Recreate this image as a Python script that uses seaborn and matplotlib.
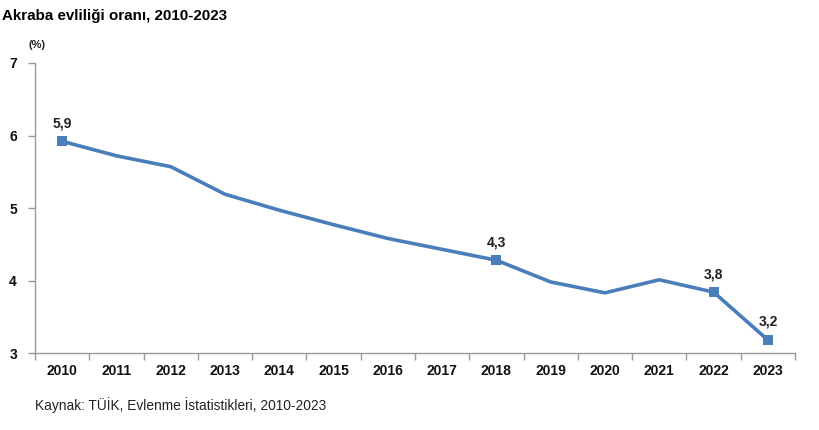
import matplotlib
matplotlib.use("Agg")
import matplotlib.pyplot as plt
import seaborn as sns
import pandas as pd
import numpy as np

years = [2010, 2011, 2012, 2013, 2014, 2015, 2016, 2017, 2018, 2019, 2020, 2021, 2022, 2023]
rates = [5.92, 5.72, 5.57, 5.19, 4.97, 4.77, 4.58, 4.43, 4.28, 3.98, 3.83, 4.01, 3.84, 3.18]
labeled_years = [2010, 2018, 2022, 2023]
labels = ["5,9", "4,3", "3,8", "3,2"]
y_ticks = [3, 4, 5, 6, 7]

sns.set_theme(style="white")
plt.rcParams['font.family'] = ['Liberation Sans', 'DejaVu Sans']

df = pd.DataFrame({"pos": np.arange(len(years)), "rate": rates})
color = "#4a7ebb"

fig = plt.figure(figsize=(8.2, 4.3), dpi=100)
ax = fig.add_axes([0.0427, 0.179, 0.9268, 0.6745])

sns.lineplot(data=df, x="pos", y="rate", ax=ax, color=color, linewidth=2.6)
lab = df[df["pos"].isin([years.index(y) for y in labeled_years])]
sns.scatterplot(data=lab, x="pos", y="rate", ax=ax, color=color, marker="s", s=46,
                edgecolor=color, linewidth=0, zorder=5)
for y, t in zip(labeled_years, labels):
    i = years.index(y)
    ax.annotate(t, (i, rates[i]), xytext=(0, 8), textcoords="offset points",
                ha="center", va="bottom", fontsize=10, fontweight="bold", color="#222222")

ax.set_xlim(-0.5, len(years) - 0.5)
ax.set_ylim(3, 7)
ax.set_yticks(y_ticks)
ax.set_yticklabels([str(v) for v in y_ticks], fontsize=10, fontweight="bold", color="#111111")
ax.set_xticks(np.arange(len(years)))
ax.set_xticklabels([str(y) for y in years], fontsize=10, fontweight="bold", color="#111111")
ax.set_xticks(np.arange(len(years) + 1) - 0.5, minor=True)
ax.tick_params(axis="x", which="major", length=0, pad=8)
ax.tick_params(axis="x", which="minor", length=5, width=1, color="#999999", direction="out", bottom=True)
ax.tick_params(axis="y", length=5, width=1, color="#999999", direction="out", left=True, pad=8)
ax.set_xlabel("")
ax.set_ylabel("")
for s in ["top", "right"]:
    ax.spines[s].set_visible(False)
for s in ["left", "bottom"]:
    ax.spines[s].set_color("#999999")
    ax.spines[s].set_linewidth(1)

fig.text(0.003, 0.962, "Akraba evliliği oranı, 2010-2023", fontsize=10.9, fontweight="bold",
         ha="left", va="center", color="#000000")
fig.text(0.0455, 0.895, "(%)", fontsize=8, fontweight="bold", ha="center", va="center", color="#222222")
fig.text(0.0427, 0.058, "Kaynak: TÜİK, Evlenme İstatistikleri, 2010-2023", fontsize=9.9,
         ha="left", va="center", color="#222222")

fig.savefig("out.png", dpi=100)
